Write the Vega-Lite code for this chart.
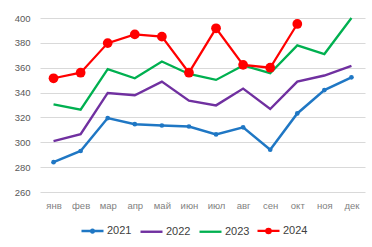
{
  "$schema": "https://vega.github.io/schema/vega-lite/v6.json",
  "width": 325,
  "height": 174,
  "autosize": {"type": "none"},
  "padding": {"left": 40, "top": 18, "right": 7, "bottom": 55},
  "background": "white",
  "config": {"view": {"stroke": null}, "font": "Liberation Sans"},
  "data": {"values": [
    {"month":"янв","year":"2021","value":284},{"month":"фев","year":"2021","value":293},{"month":"мар","year":"2021","value":319.5},{"month":"апр","year":"2021","value":314.6},{"month":"май","year":"2021","value":313.5},{"month":"июн","year":"2021","value":312.7},{"month":"июл","year":"2021","value":306.3},{"month":"авг","year":"2021","value":312},{"month":"сен","year":"2021","value":294},{"month":"окт","year":"2021","value":323.2},{"month":"ноя","year":"2021","value":342},{"month":"дек","year":"2021","value":352.3},
    {"month":"янв","year":"2022","value":301},{"month":"фев","year":"2022","value":306.5},{"month":"мар","year":"2022","value":339.7},{"month":"апр","year":"2022","value":337.8},{"month":"май","year":"2022","value":348.8},{"month":"июн","year":"2022","value":333.5},{"month":"июл","year":"2022","value":329.7},{"month":"авг","year":"2022","value":343.2},{"month":"сен","year":"2022","value":326.8},{"month":"окт","year":"2022","value":348.8},{"month":"ноя","year":"2022","value":353.7},{"month":"дек","year":"2022","value":361.5},
    {"month":"янв","year":"2023","value":330.5},{"month":"фев","year":"2023","value":326.2},{"month":"мар","year":"2023","value":358.8},{"month":"апр","year":"2023","value":351.5},{"month":"май","year":"2023","value":365},{"month":"июн","year":"2023","value":355},{"month":"июл","year":"2023","value":350.2},{"month":"авг","year":"2023","value":361.8},{"month":"сен","year":"2023","value":355.6},{"month":"окт","year":"2023","value":378},{"month":"ноя","year":"2023","value":371},{"month":"дек","year":"2023","value":400},
    {"month":"янв","year":"2024","value":351.5},{"month":"фев","year":"2024","value":356},{"month":"мар","year":"2024","value":379.8},{"month":"апр","year":"2024","value":386.8},{"month":"май","year":"2024","value":385},{"month":"июн","year":"2024","value":356},{"month":"июл","year":"2024","value":391.7},{"month":"авг","year":"2024","value":362.3},{"month":"сен","year":"2024","value":360},{"month":"окт","year":"2024","value":395.2}
  ]},
  "encoding": {
    "x": {"field": "month", "type": "ordinal",
      "sort": ["янв","фев","мар","апр","май","июн","июл","авг","сен","окт","ноя","дек"],
      "scale": {"type": "point", "padding": 0.5},
      "axis": {"title": null, "labelAngle": 0, "domain": false, "ticks": false, "labelPadding": 8, "labelColor": "#7f7f7f", "labelFontSize": 9.5, "grid": false}},
    "y": {"field": "value", "type": "quantitative",
      "scale": {"domain": [260, 400], "nice": false, "zero": false},
      "axis": {"title": null, "values": [260,280,300,320,340,360,380,400], "domain": false, "ticks": false, "labelPadding": 10, "labelColor": "#595959", "labelFontSize": 9.5, "gridColor": "#d9d9d9", "gridWidth": 1}},
    "color": {"field": "year", "type": "nominal",
      "scale": {"domain": ["2021","2022","2023","2024"], "range": ["#1F77C4","#7030A0","#00B050","#FF0000"]},
      "legend": {"orient": "none", "legendX": 40, "legendY": 200, "direction": "horizontal", "title": null,
        "symbolType": "M-1,0H1", "symbolSize": 484, "symbolStrokeWidth": 3,
        "labelFontSize": 11, "labelColor": "#404040", "labelOffset": 2, "columnPadding": 3,
        "encode": {"symbols": {"update": {
          "shape": [
            {"test": "datum.value == '2021'", "value": "M-1,0H1M-0.12,0a0.12,0.12 0 1,0 0.24,0a0.12,0.12 0 1,0 -0.24,0"},
            {"test": "datum.value == '2024'", "value": "M-1,0H1M-0.2,0a0.2,0.2 0 1,0 0.4,0a0.2,0.2 0 1,0 -0.4,0"},
            {"value": "M-1,0H1"}
          ],
          "fill": {"scale": "color", "field": "value"},
          "stroke": {"scale": "color", "field": "value"},
          "strokeWidth": [
            {"test": "datum.value == '2022'", "value": 2.5},
            {"value": 3}
          ],
          "fillOpacity": {"value": 1},
          "opacity": {"value": 1}
        }}}
      }}
  },
  "layer": [
    {"mark": {"type": "line"},
     "encoding": {"strokeWidth": {"field": "year", "type": "nominal",
        "scale": {"domain": ["2021","2022","2023","2024"], "range": [2.5, 2.2, 3.5, 3.5]}, "legend": null}}},
    {"transform": [{"filter": "datum.year == '2021' || datum.year == '2024'"}],
     "mark": {"type": "point", "filled": true, "opacity": 1},
     "encoding": {"size": {"field": "year", "type": "nominal",
        "scale": {"domain": ["2021","2024"], "range": [22, 95]}, "legend": null}}}
  ]
}
